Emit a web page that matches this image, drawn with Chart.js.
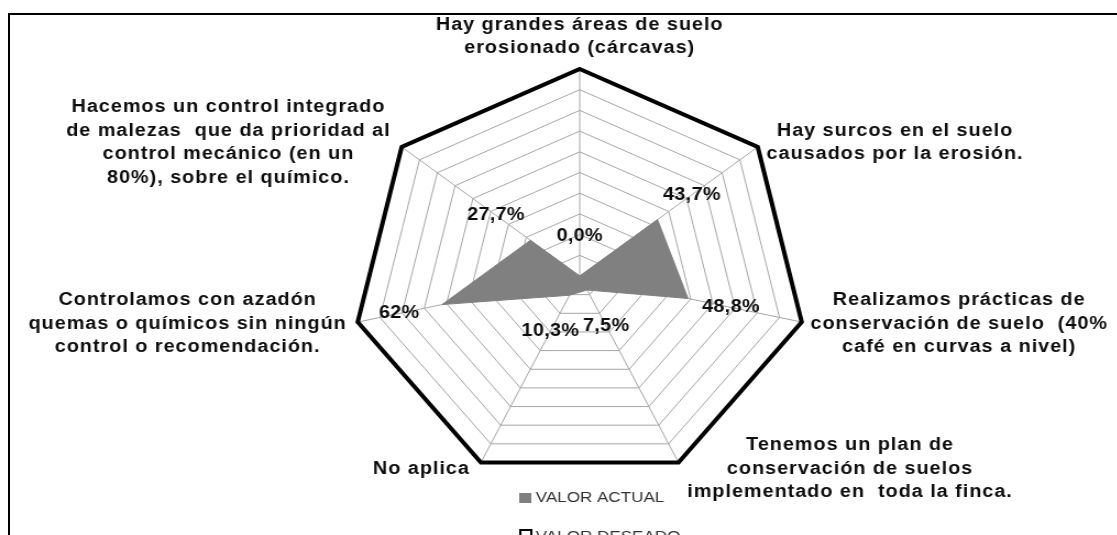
<!DOCTYPE html>
<html>
<head>
<meta charset="utf-8">
<script src="https://cdn.jsdelivr.net/npm/chart.js@4.4.0/dist/chart.umd.min.js"></script>
<style>
  html, body { margin:0; padding:0; background:#fff; overflow:hidden; width:1117px; height:535px; }
  #frame { position:absolute; left:8px; top:13px; width:1200px; height:600px; border-top:2px solid #000; border-left:2px solid #000; }
  #wrap { position:absolute; left:0; top:0; width:1016px; height:535px; transform:scaleX(1.1); transform-origin:0 0; }
</style>
</head>
<body>
<div id="frame"></div>
<div id="wrap"><canvas id="c" width="1016" height="535"></canvas></div>
<script>
// ---- data ----
const categories = [
  ["Hay grandes áreas de suelo", "erosionado (cárcavas)"],
  ["Hay surcos en el suelo", "causados por la erosión."],
  ["Realizamos prácticas de", "conservación de suelo  (40%", "café en curvas a nivel)"],
  ["Tenemos un plan de", "conservación de suelos", "implementado en  toda la finca."],
  ["No aplica"],
  ["Controlamos con azadón", "quemas o químicos sin ningún", "control o recomendación."],
  ["Hacemos un control integrado", "de malezas  que da prioridad al", "control mecánico (en un", "80%), sobre el químico."]
];
const valorActual = [0.0, 43.7, 48.8, 7.5, 10.3, 62, 27.7];
const valorDeseado = [100, 100, 100, 100, 100, 100, 100];
const valueLabels = ["0,0%", "43,7%", "48,8%", "7,5%", "10,3%", "62%", "27,7%"];
const seriesNames = ["VALOR ACTUAL", "VALOR DESEADO"];
const scaleMin = 0, scaleMax = 100, scaleStep = 10;

// ---- plugins ----
const axisLabelPlugin = {
  id: 'axisLabels',
  afterDraw(chart) {
    const scale = chart.scales.r;
    const ctx = chart.ctx;
    ctx.save();
    ctx.font = 'bold 18px "Liberation Sans", Arial, sans-serif';
    try { ctx.letterSpacing = '0.9px'; } catch (e) {}
    ctx.fillStyle = '#0d0d0d';
    ctx.textBaseline = 'middle';
    ctx.textAlign = 'center';
    const lh = 23.5;
    const r = scale.drawingArea;
    chart.data.labels.forEach((lines, i) => {
      const p = scale.getPointPosition(i, r);
      const w = Math.max(...lines.map(l => ctx.measureText(l).width));
      const h = lines.length * lh;
      const dx = p.x - scale.xCenter;
      const vOff = 7 * (p.y - scale.yCenter) / r;
      let left, top;
      if (Math.abs(dx) < 1) { left = p.x - w / 2; top = p.y - 9 - h; }
      else if (dx > 0) { left = p.x + 8; top = p.y - h / 2 + vOff; }
      else { left = p.x - 10 - w; top = p.y - h / 2 + vOff; }
      lines.forEach((l, j) => ctx.fillText(l, left + w / 2, top + lh * (j + 0.5)));
    });
    ctx.restore();
  }
};

const valueLabelPlugin = {
  id: 'valueLabels',
  afterDraw(chart) {
    const scale = chart.scales.r;
    const ctx = chart.ctx;
    const data = chart.data.datasets[0].data;
    ctx.save();
    ctx.font = 'bold 18px "Liberation Sans", Arial, sans-serif';
    try { ctx.letterSpacing = '0.3px'; } catch (e) {}
    ctx.fillStyle = '#0d0d0d';
    ctx.textAlign = 'center';
    ctx.textBaseline = 'middle';
    data.forEach((v, i) => {
      const p = scale.getPointPosition(i, scale.getDistanceFromCenterForValue(v) + 40);
      ctx.fillText(valueLabels[i], p.x, p.y);
    });
    ctx.restore();
  }
};

const legendPlugin = {
  id: 'customLegend',
  afterDraw(chart) {
    const scale = chart.scales.r;
    const ctx = chart.ctx;
    const ds = chart.data.datasets;
    const x0 = scale.xCenter - 55;
    ctx.save();
    ctx.font = '15.5px "Liberation Sans", Arial, sans-serif';
    ctx.textBaseline = 'middle';
    ctx.textAlign = 'left';
    // row 1
    ctx.fillStyle = ds[0].backgroundColor;
    ctx.fillRect(x0, 493, 11, 10);
    ctx.fillStyle = '#333333';
    ctx.fillText(ds[0].label, x0 + 15, 498);
    // row 2
    ctx.strokeStyle = ds[1].borderColor;
    ctx.lineWidth = 2;
    ctx.strokeRect(x0 + 1, 530, 10, 10);
    ctx.fillStyle = '#333333';
    ctx.fillText(ds[1].label, x0 + 15, 537);
    ctx.restore();
  }
};

new Chart(document.getElementById('c'), {
  type: 'radar',
  data: {
    labels: categories,
    datasets: [
      {
        label: seriesNames[0],
        data: valorActual,
        backgroundColor: '#808080',
        borderColor: '#808080',
        borderWidth: 1,
        fill: true,
        pointRadius: 0,
        clip: false
      },
      {
        label: seriesNames[1],
        data: valorDeseado,
        backgroundColor: 'rgba(0,0,0,0)',
        borderColor: '#000000',
        borderWidth: 4,
        borderJoinStyle: 'miter',
        fill: false,
        pointRadius: 0,
        clip: false
      }
    ]
  },
  options: {
    responsive: false,
    animation: false,
    devicePixelRatio: 1,
    layout: { padding: { left: 320, right: 282, top: 69, bottom: 52 } },
    plugins: { legend: { display: false }, tooltip: { enabled: false } },
    elements: { line: { tension: 0 } },
    scales: {
      r: {
        min: scaleMin,
        max: scaleMax,
        ticks: { display: false, stepSize: scaleStep },
        grid: { color: '#a6a6a6', lineWidth: 1 },
        angleLines: { color: '#a6a6a6', lineWidth: 1 },
        pointLabels: { display: false }
      }
    }
  },
  plugins: [axisLabelPlugin, valueLabelPlugin, legendPlugin]
});
</script>
</body>
</html>
